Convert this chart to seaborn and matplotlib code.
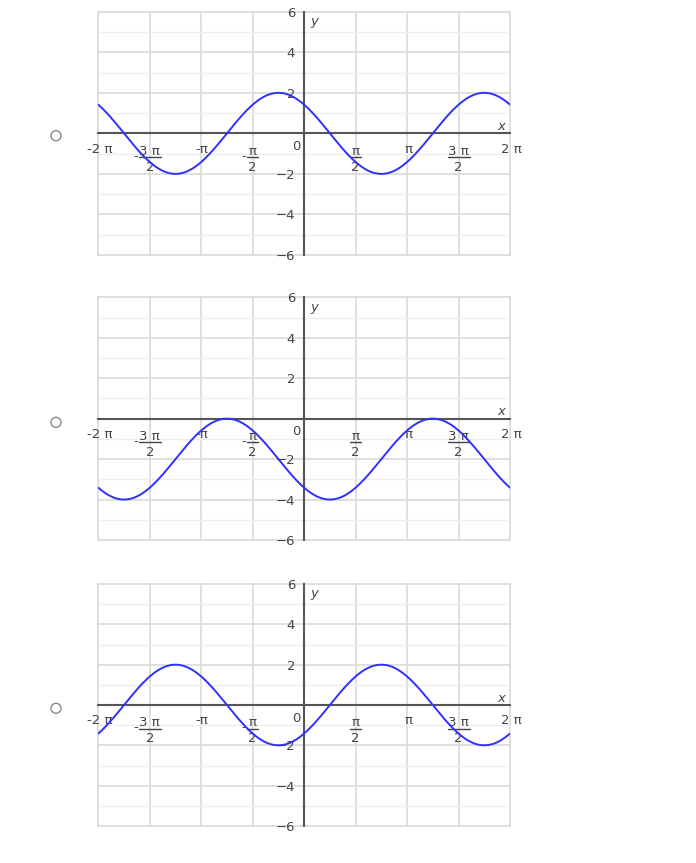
import numpy as np
import matplotlib
matplotlib.use('Agg')
import matplotlib.pyplot as plt
from matplotlib.patches import Circle
from matplotlib.lines import Line2D
from matplotlib.transforms import offset_copy
import seaborn as sns

# each option: y = amp * cos(x + phase) + shift
amplitudes = [2, 2, 2]
phases = [np.pi / 4, 3 * np.pi / 4, -3 * np.pi / 4]
shifts = [0, -2, 0]

# x tick labels: numerator / denominator, plus a leading minus for fractions
x_ticks = np.arange(-4, 5) * np.pi / 2
x_num = ['-2 π', '3 π', '-π', 'π', '', 'π', 'π', '3 π', '2 π']
x_den = ['', '2', '', '2', '', '2', '', '2', '']
x_neg = [False, True, False, True, False, False, False, False, False]

y_major = [-6, -4, -2, 0, 2, 4, 6]
y_labels = ['−6', '−4', '−2', '', '2', '4', '6']
y_minor = [-5, -3, -1, 1, 3, 5]

sns.set_style('white')
plt.rcParams['font.family'] = ['DejaVu Sans']

W, H = 696, 863
fig = plt.figure(figsize=(W / 100, H / 100), dpi=100)

# panel boxes in pixels: left, top, right, bottom
boxes = [(98.3, 11.7, 510, 255), (98.3, 297.3, 510, 540), (98.3, 584, 510, 826)]
radio_y = [135.7, 422.3, 708.3]

text_col = '#444444'
axis_col = '#555555'
fs = 9.5

xs = np.linspace(-2 * np.pi, 2 * np.pi, 600)


def label(ax, s, xt, dx, dy, **kw):
    ax.annotate(s, xy=(xt, 0), xytext=(dx, dy), textcoords='offset pixels',
                ha='center', va='center', fontsize=fs, color=text_col, **kw)


for i, (l, t, r, b) in enumerate(boxes):
    ax = fig.add_axes([l / W, 1 - b / H, (r - l) / W, (b - t) / H])
    ys = amplitudes[i] * np.cos(xs + phases[i]) + shifts[i]
    sns.lineplot(x=xs, y=ys, ax=ax, color='#3030ff', lw=1.4, zorder=5)

    ax.set_xlim(-2 * np.pi, 2 * np.pi)
    ax.set_ylim(-6, 6)

    ax.set_xticks(x_ticks)
    ax.set_xticklabels([])
    ax.set_yticks(y_major)
    ax.set_yticklabels(y_labels)
    ax.set_yticks(y_minor, minor=True)

    ax.grid(True, which='major', color='#dcdcdc', lw=1.3, clip_on=False)
    ax.grid(True, which='minor', axis='y', color='#eeeeee', lw=1.0, clip_on=False)
    ax.set_axisbelow(True)

    for side in ['top', 'right']:
        ax.spines[side].set_visible(False)
    for side in ['left', 'bottom']:
        ax.spines[side].set_position(('data', 0))
        ax.spines[side].set_color(axis_col)
        ax.spines[side].set_linewidth(1.5)
        ax.spines[side].set_zorder(4)

    ax.tick_params(which='major', direction='out', length=3.5, width=1.2,
                   color=axis_col, labelcolor=text_col, labelsize=fs)
    ax.tick_params(axis='y', pad=3)
    ax.tick_params(which='minor', length=0)
    ax.set_xlabel('')
    ax.set_ylabel('')

    # x tick labels, fractions built from numerator, bar and denominator
    px_per_unit = (r - l) / (4 * np.pi)
    bar_tr = offset_copy(ax.transData, fig=fig, x=0, y=-23.5, units='dots')
    for xt, num, den, neg in zip(x_ticks, x_num, x_den, x_neg):
        if not num:
            continue
        if den:
            half = 11 if len(num) > 1 else 5.5
            label(ax, num, xt, 0, -18)
            label(ax, den, xt, 0, -34)
            hw = half / px_per_unit
            ax.add_line(Line2D([xt - hw, xt + hw], [0, 0], transform=bar_tr,
                               color=text_col, lw=1.0, clip_on=False))
            if neg:
                label(ax, '-', xt, -half - 3, -23)
        else:
            label(ax, num, xt, 1, -16)

    label(ax, '0', 0, -8, -13)
    ax.annotate('x', xy=(2 * np.pi, 0), xytext=(-9, 7), textcoords='offset pixels',
                ha='center', va='center', fontsize=fs, color=text_col, style='italic')
    ax.annotate('y', xy=(0, 6), xytext=(10, -10), textcoords='offset pixels',
                ha='center', va='center', fontsize=fs, color=text_col, style='italic')

    fig.add_artist(Circle((56 / 100, (H - radio_y[i]) / 100), 0.05,
                          transform=fig.dpi_scale_trans, fill=False,
                          edgecolor='#8a8a8a', lw=1.0))

fig.savefig('out.png', dpi=100)
